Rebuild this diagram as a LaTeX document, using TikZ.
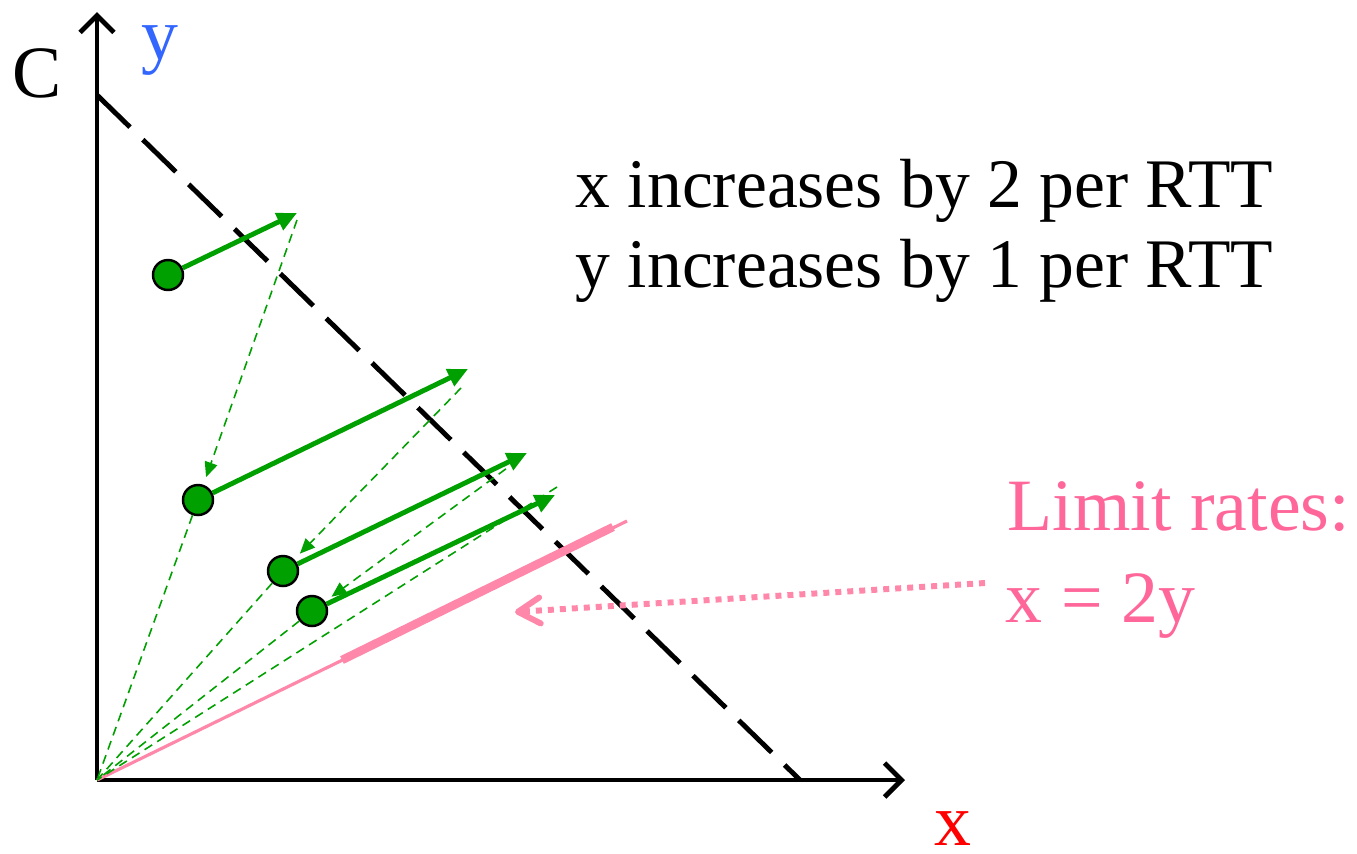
\documentclass[tikz,border=0pt]{standalone}
\usepackage{fontspec}
\setmainfont{Liberation Serif}
\usetikzlibrary{arrows.meta}

\definecolor{flowgreen}{RGB}{0,160,0}
\definecolor{limitpink}{RGB}{255,136,170}
\definecolor{limittext}{RGB}{255,102,153}
\definecolor{axisblue}{RGB}{51,102,255}

\tikzset{
  axis/.style={line width=1.4pt, -{Straight Barb[length=0.17cm,width=0.34cm]}},
  capline/.style={line width=1.4pt, dash pattern=on 0.46cm off 0.18cm},
  rate/.style={circle, draw=black, line width=0.7pt, fill=flowgreen, minimum size=0.30cm, inner sep=0pt},
  incr/.style={flowgreen, line width=1.4pt, -{Triangle[length=0.2cm,width=0.18cm]}},
  decr/.style={flowgreen, line width=0.45pt, dash pattern=on 0.09cm off 0.06cm},
  halve/.style={decr, -{Triangle[length=0.15cm,width=0.13cm]}, shorten >=0.08cm},
  label/.style={inner sep=0pt, font=\fontsize{19.8}{23}\selectfont},
  biglabel/.style={inner sep=0pt, font=\fontsize{21}{25}\selectfont}
}

\begin{document}
\begin{tikzpicture}

\useasboundingbox (-0.97,-0.73) rectangle (12.60,7.80);

% Axes
\coordinate (O) at (0,0);
\coordinate (ytop) at (0,7.68);
\coordinate (xend) at (8.08,0);
\draw[axis] (O) -- (ytop);
\draw[axis] (O) -- (xend);
\node[biglabel, anchor=base] (C) at (-0.595,6.83) {C};
\node[biglabel, anchor=base, axisblue] (ylab) at (0.63,7.21) {y};
\node[biglabel, anchor=base, red] (xlab) at (8.56,-0.65) {x};

% Capacity line x + y = C
\coordinate (cy) at (0,6.85);
\coordinate (cx) at (7.03,0);
\draw[capline] (cy) -- (cx);

% Limit rates x = 2y
\coordinate (lim end) at (5.30,2.59);
\coordinate (lim a) at (2.45,1.20);
\coordinate (lim b) at (5.16,2.53);
\draw[limitpink, line width=0.9pt] (O) -- (lim end);
\draw[limitpink, line width=2.4pt] (lim a) -- (lim b);

% Rates
\node[rate] (r1) at (0.71,5.05) {};
\node[rate] (r2) at (1.01,2.80) {};
\node[rate] (r3) at (1.86,2.09) {};
\node[rate] (r4) at (2.15,1.69) {};

% Tips after additive increase
\coordinate (t1) at (2.00,5.67);
\coordinate (t2) at (3.71,4.11);
\coordinate (t3) at (4.30,3.27);
\coordinate (t4) at (4.58,2.85);
\coordinate (s1) at (2.00,5.60);
\coordinate (s2) at (3.64,3.92);
\coordinate (s3) at (4.21,3.20);
\coordinate (s4) at (4.60,2.93);

% Multiplicative decrease
\draw[halve] (s1) -- (r2);
\draw[halve] (s2) -- (r3);
\draw[halve] (s3) -- (r4);
\foreach \i in {2,3,4} {
  \draw[decr] (r\i) -- (O);
}
\draw[decr] (s4) -- (O);

% Additive increase
\foreach \i in {1,2,3,4} {
  \draw[incr] (r\i) -- (t\i);
}

% Text
\node[label, anchor=base west] (rule x) at (4.78,5.73) {x increases by 2 per RTT};
\node[label, anchor=base west] (rule y) at (4.78,4.93) {y increases by 1 per RTT};
\node[biglabel, anchor=base west, limittext] (limit) at (9.10,2.50) {Limit rates:};
\node[biglabel, anchor=base west, limittext] (limit eq) at (9.08,1.58) {x = 2y};

% Pointer
\coordinate (ptr) at (4.18,1.68);
\draw[limitpink, line width=1.7pt, dash pattern=on 0.06cm off 0.06cm,
  -{Straight Barb[length=0.22cm,width=0.26cm,round]}] (8.88,1.97) -- (ptr);

\end{tikzpicture}
\end{document}
